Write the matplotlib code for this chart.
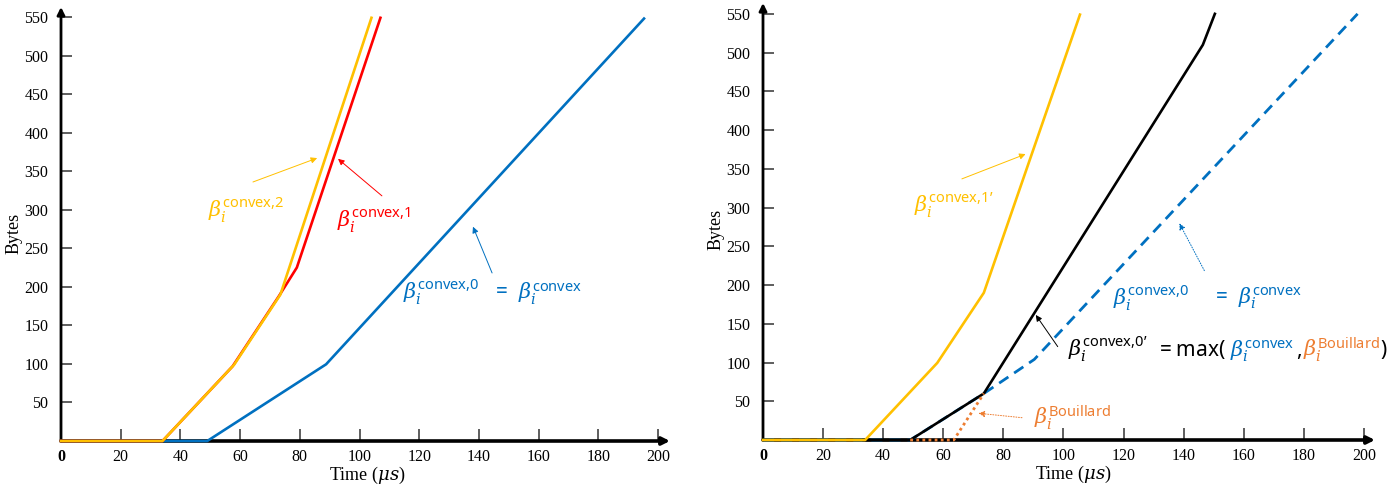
import matplotlib
matplotlib.use('Agg')
import matplotlib.pyplot as plt
from matplotlib.transforms import IdentityTransform

plt.rcParams['font.family'] = ['Liberation Serif', 'DejaVu Serif']
plt.rcParams['mathtext.fontset'] = 'custom'
plt.rcParams['mathtext.rm'] = 'Noto Sans'
plt.rcParams['mathtext.it'] = 'DejaVu Serif:italic'
plt.rcParams['mathtext.bf'] = 'Noto Sans:bold'

GOLD = '#FFC000'
RED = '#FF0000'
BLUE = '#0070C0'
ORANGE = '#ED7D31'

# ---- data (time in us, bytes) ----
# left panel
t_conv2 = [0, 34, 58, 73.5, 104]
b_conv2 = [0, 0, 99, 190, 549]
t_conv1 = [0, 34, 57.5, 73, 79, 107]
b_conv1 = [0, 0, 97, 188, 225, 549]
t_conv0 = [0, 49, 88.8, 195.3]
b_conv0 = [0, 0, 99.5, 548]

# right panel
t_conv1p = [0, 34, 58, 73.5, 105.5]
b_conv1p = [0, 0, 99.5, 190, 549]
t_conv0_r = [0, 49, 73.5, 90.3, 197.9]
b_conv0_r = [0, 0, 60, 104, 550]
t_conv0p = [33.5, 49, 73.5, 146.4, 150.4]
b_conv0p = [0, 0, 60, 510, 550]
t_bouil = [49, 63.5, 73.5]
b_bouil = [0, 0, 60]

x_ticks = [0, 20, 40, 60, 80, 100, 120, 140, 160, 180, 200]
y_ticks = [50, 100, 150, 200, 250, 300, 350, 400, 450, 500, 550]

W, H = 1396, 487
fig = plt.figure(figsize=(W / 100, H / 100), dpi=100)
ax1 = fig.add_axes([61/W, 46/H, (670-61)/W, (441-7)/H])
ax2 = fig.add_axes([763/W, 47/H, (1375-763)/W, (440-3)/H])


def style_axes(ax, xmax, ymax):
    ax.set_xlim(0, xmax)
    ax.set_ylim(0, ymax)
    for s in ax.spines.values():
        s.set_visible(False)
    ax.annotate('', xy=(1, 0), xytext=(0, 0), xycoords='axes fraction',
                arrowprops=dict(arrowstyle='-|>', lw=2.6, color='black',
                                mutation_scale=11, shrinkA=0, shrinkB=0), zorder=2)
    ax.annotate('', xy=(0, 1), xytext=(0, 0), xycoords='axes fraction',
                arrowprops=dict(arrowstyle='-|>', lw=2.0, color='black',
                                mutation_scale=11, shrinkA=0, shrinkB=0), zorder=2)
    ax.set_xticks(x_ticks)
    ax.set_xticklabels([str(v) for v in x_ticks])
    ax.get_xticklabels()[0].set_fontweight('bold')
    ax.set_yticks(y_ticks)
    ax.tick_params(axis='x', direction='in', length=8.5, width=1.1,
                   color='#333333', labelsize=11.5, pad=6)
    ax.tick_params(axis='y', direction='in', length=8, width=1.1,
                   color='#333333', labelsize=11.5, pad=9)


style_axes(ax1, 204, 563)
style_axes(ax2, 203.7, 564)

# axis titles
for x, y in [(14, 233), (716, 229)]:
    fig.text(x / W, 1 - y / H, 'Bytes', rotation=90, ha='center', va='center',
             fontsize=13)
for x, y in [(367, 475), (1073, 474)]:
    fig.text(x / W, 1 - y / H, r'Time ($\mu s$)', ha='center', va='center',
             fontsize=13)

lw = 1.9
# left curves
ax1.plot(t_conv0, b_conv0, color=BLUE, lw=lw, clip_on=False, zorder=3)
ax1.plot(t_conv1, b_conv1, color=RED, lw=lw, clip_on=False, zorder=4)
ax1.plot(t_conv2, b_conv2, color=GOLD, lw=lw, clip_on=False, zorder=5)

# right curves
ax2.plot(t_conv0_r, b_conv0_r, color=BLUE, lw=2.0, ls=(0, (4, 2.5)),
         clip_on=False, zorder=3)
ax2.plot(t_conv0p, b_conv0p, color='black', lw=lw, clip_on=False, zorder=4)
ax2.plot(t_conv1p, b_conv1p, color=GOLD, lw=lw, clip_on=False, zorder=5)
ax2.plot(t_bouil, b_bouil, color=ORANGE, lw=2.0, ls=(0, (1, 1.2)),
         clip_on=False, zorder=6)

fs = 15


def arrow(ax, xy, xytext, color, ls='-'):
    ax.annotate('', xy=xy, xytext=xytext,
                arrowprops=dict(arrowstyle='-|>', lw=0.7, color=color, ls=ls,
                                mutation_scale=9, shrinkA=0, shrinkB=0))


# left annotations
ax1.text(49.2, 300, r'$\beta_i^{\mathrm{convex,\!2}}$', color=GOLD, fontsize=fs,
         ha='left', va='center')
arrow(ax1, (85.8, 367), (64.3, 336), GOLD)
ax1.text(92.5, 287, r'$\beta_i^{\mathrm{convex,\!1}}$', color=RED, fontsize=fs,
         ha='left', va='center')
arrow(ax1, (92.8, 366), (107.5, 318), RED)
ax1.text(114.6, 193,
         r'$\beta_i^{\mathrm{convex,\!0}}\ \ =\ \beta_i^{\mathrm{convex}}$',
         color=BLUE, fontsize=fs, ha='left', va='center')
arrow(ax1, (138, 278), (144.4, 218), BLUE)

# right annotations
ax2.text(50.4, 303, r'$\beta_i^{\mathrm{convex,\!1’}}$', color=GOLD, fontsize=fs,
         ha='left', va='center')
arrow(ax2, (87.4, 369), (66.2, 337), GOLD)
ax2.text(116.5, 183, r'$\beta_i^{\mathrm{convex,\!0}}$', color=BLUE, fontsize=fs,
         ha='left', va='center')
ax2.text(149.4, 183, r'$=\ \beta_i^{\mathrm{convex}}$', color=BLUE, fontsize=fs,
         ha='left', va='center')
arrow(ax2, (138.6, 279.6), (146.9, 218.6), BLUE, ls=':')
ax2.text(90.3, 28.4, r'$\beta_i^{\mathrm{Bouillard}}$', color=ORANGE, fontsize=fs,
         ha='left', va='center')
arrow(ax2, (71.7, 34.5), (86.2, 28.8), ORANGE, ls=':')
arrow(ax2, (90.8, 161.4), (98.1, 120.5), 'black')

# composite coloured formula
pieces = [
    (r'$\beta_i^{\mathrm{convex,\!0’}}$', 'black', 0),
    (r'$=\mathrm{max}($', 'black', 8),
    (r'$\beta_i^{\mathrm{convex}}$', BLUE, 5),
    (r'$,$', 'black', 1),
    (r'$\beta_i^{\mathrm{Bouillard}}$', ORANGE, 1),
    (r'$)$', 'black', 1),
]
renderer = fig.canvas.get_renderer()
x0, y0 = ax2.transData.transform((101.5, 108))
for s, c, gap in pieces:
    x0 += gap
    t = fig.text(x0, y0, s, color=c, fontsize=fs, ha='left', va='baseline',
                 transform=IdentityTransform())
    x0 += t.get_window_extent(renderer=renderer).width

fig.savefig('out.png', dpi=100)
